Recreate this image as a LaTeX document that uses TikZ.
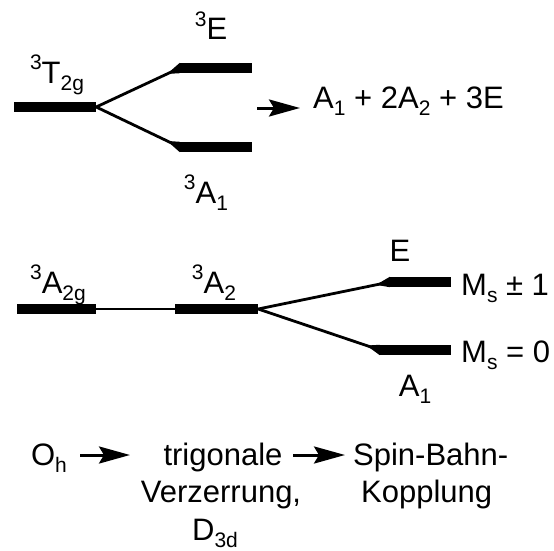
\documentclass[tikz,border=0pt]{standalone}
\usepackage{fontspec}
\setmainfont{Liberation Sans}
\usetikzlibrary{arrows.meta,calc}
% raised and lowered indices in a smaller size
\newcommand\hi[1]{\raisebox{0.45em}{\fontsize{21}{22}\selectfont #1}}
\newcommand\lo[1]{\raisebox{-0.24em}{\fontsize{21}{22}\selectfont #1}}
% tapered join of a split line onto a level
\newcommand\taper[2]{\fill (#1.north west) -- (#1.south west) -- ($(#1.west)!14pt!(#2.east)$) -- cycle;}

\begin{document}
\begin{tikzpicture}[x=1pt,y=-1pt,
  level/.style={fill=black, inner sep=0pt, minimum height=10pt},
  lbl/.style={inner sep=0pt, anchor=base, font=\fontsize{31}{36}\selectfont},
  link/.style={line width=2.8pt},
  arr/.style={line width=3pt, -{Stealth[length=31pt,width=17pt,inset=5pt]}},
]
\useasboundingbox (0,0) rectangle (554,551);

% --- 3T2g splitting ---
\node[level, minimum width=82pt] (t2g) at (55,107) {};
\node[level, minimum width=72pt] (e3)  at (216,68) {};
\node[level, minimum width=72pt] (a13) at (216,147) {};
\draw[link] (t2g.east) -- (e3.west);
\draw[link] (t2g.east) -- (a13.west);
\taper{e3}{t2g}
\taper{a13}{t2g}

\node[lbl] (lt2g) at (57,83)  {\hi{3}T\lo{2g}};
\node[lbl] (le3)  at (211,40) {\hi{3}E};
\node[lbl] (la13) at (206,203) {\hi{3}A\lo{1}};

\coordinate (s1) at (257,108);
\coordinate (s2) at (300,108);
\node[lbl, anchor=base west] (sum) at (313,108) {A\lo{1} + 2A\lo{2} + 3E};
\draw[arr] (s1) -- (s2);

% --- 3A2g splitting ---
\node[level, minimum width=79pt] (a2g) at (56.5,309) {};
\node[level, minimum width=83pt] (a2)  at (216.5,309) {};
\node[level, minimum width=61pt] (me)  at (420.5,282) {};
\node[level, minimum width=71pt] (ma1) at (415.5,350) {};
\draw[line width=2.4pt] (a2g.east) -- (a2.west);
\draw[link] (a2.east) -- (me.west);
\draw[link] (a2.east) -- (ma1.west);
\taper{me}{a2}
\taper{ma1}{a2}

\node[lbl] (la2g) at (58,293)  {\hi{3}A\lo{2g}};
\node[lbl] (la2)  at (214,293) {\hi{3}A\lo{2}};
\node[lbl] (lme)  at (400,261) {E};
\node[lbl] (lma1) at (415,396) {A\lo{1}};
\node[lbl, anchor=base west] (ms1) at (461,295) {M\lo{s} ± 1};
\node[lbl, anchor=base west] (ms0) at (461,362) {M\lo{s} = 0};

% --- symmetry steps ---
\node[lbl] (oh)   at (49,465)  {O\lo{h}};
\node[lbl] (trg1) at (223,465) {trigonale};
\node[lbl] (trg2) at (221,502) {Verzerrung,};
\node[lbl] (trg3) at (215,540) {D\lo{3d}};
\node[lbl, anchor=base west] (sb1) at (353,465) {Spin-Bahn-};
\node[lbl, anchor=base west] (sb2) at (361,502) {Kopplung};

\coordinate (p1) at (80,455);
\coordinate (p2) at (130,455);
\coordinate (p3) at (293,455);
\coordinate (p4) at (345,455);
\draw[arr] (p1) -- (p2);
\draw[arr] (p3) -- (p4);
\end{tikzpicture}
\end{document}
